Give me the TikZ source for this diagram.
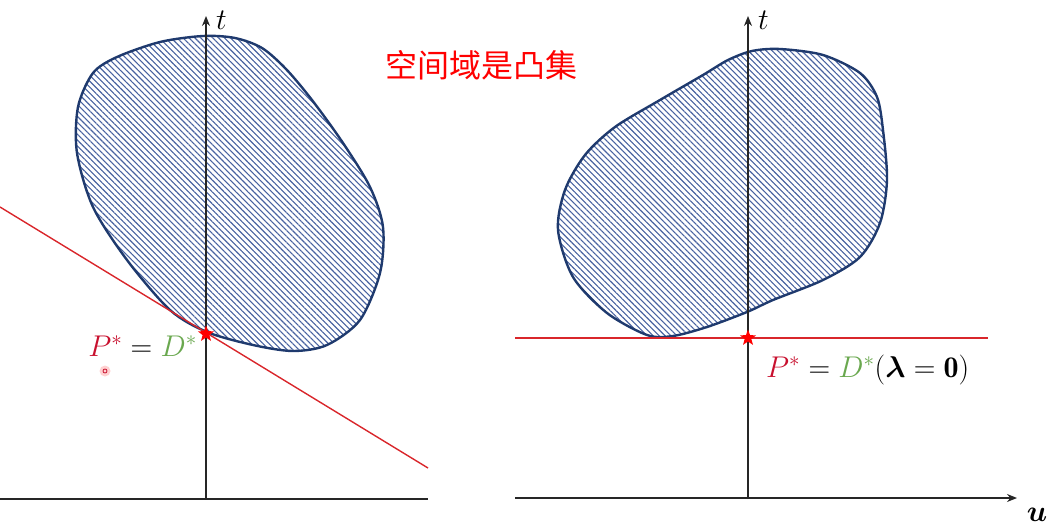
\RequirePackage{fix-cm}
\documentclass[tikz,border=0pt]{standalone}
\usepackage{amsmath,bm}
\usepackage{fontspec}
\newfontfamily\cjk{Noto Sans CJK SC}
\usetikzlibrary{arrows.meta,shapes.geometric,patterns.meta}
\definecolor{navy}{HTML}{1F3A6E}
\definecolor{hatch}{HTML}{4862A0}
\definecolor{lred}{HTML}{D9262B}
\definecolor{pred}{HTML}{C8102E}
\definecolor{dgreen}{HTML}{6AA84F}
\tikzset{
  blob/.style={draw=navy,line width=2.4pt,pattern={Lines[angle=-45,distance=4.2pt,line width=1.1pt]},pattern color=hatch},
  axis/.style={draw=black!85,line width=1.4pt},
  axarrow/.style={axis,-{Stealth[length=10pt,width=8pt]}},
  redline/.style={draw=lred,line width=1.4pt},
  optstar/.style={star,star points=5,star point ratio=2.4,minimum size=17pt,inner sep=0pt,fill=red,draw=none},
  lab/.style={inner sep=0pt,font=\fontsize{30}{36}\selectfont}
}
\begin{document}
\begin{tikzpicture}[x=1pt,y=-1pt]
\useasboundingbox (0,0) rectangle (1055,532);
% left panel
\draw[blob] plot[smooth cycle] coordinates {
 (203,36) (235,38) (262,48) (286,69) (312,100) (343,143) (370,187) (383,227) (380,273)
 (360,320) (327,345) (293,351) (253,345) (207,332) (170,310) (127,260)
 (93,207) (77,153) (78,107) (93,73) (117,57) (160,42)};
\coordinate (lo) at (206,499);
\coordinate (lt) at (206,16);
\coordinate (lxa) at (0,499);
\coordinate (lxb) at (428,499);
\draw[axis] (lxa) -- (lxb);
\draw[axarrow] (lo) -- (lt);
\node[lab,anchor=west] (ltl) at (216,20) {$t$};
\coordinate (ra) at (0,207);
\coordinate (rb) at (428,468);
\draw[redline] (ra) -- (rb);
\node[optstar] (ls) at (206,334) {};
\node[lab,anchor=base east] (llab) at (197,356) {$\color{pred}P^*\color{black}=\color{dgreen}D^*$};
\node[circle,fill=red!30,opacity=0.6,minimum size=11pt,inner sep=0pt] (cur) at (105,371) {};
\node[circle,draw=pred,line width=0.8pt,minimum size=4pt,inner sep=0pt] (curc) at (105,371) {};
% right panel
\draw[blob] plot[smooth cycle] coordinates {
 (752,51) (780,49) (823,55) (860,73) (877,97) (883,130) (887,180) (880,223)
 (860,257) (823,280) (773,300) (747,312) (707,327) (673,336) (647,335)
 (607,313) (573,277) (558,230) (565,190) (585,155) (615,127) (660,100)
 (703,75) (728,60)};
\coordinate (ro) at (748,499);
\coordinate (rt) at (748,16);
\coordinate (rxa) at (515,498);
\coordinate (rxb) at (1017,498);
\draw[axarrow] (rxa) -- (rxb);
\draw[axarrow] (ro) -- (rt);
\node[lab,anchor=west] (rtl) at (758,20) {$t$};
\node[lab] (ul) at (1037,515) {$\bm{u}$};
\coordinate (ha) at (515,338);
\coordinate (hb) at (988,338);
\draw[redline] (ha) -- (hb);
\node[optstar] (rs) at (748,338) {};
\node[lab,anchor=base west] (rlab) at (766,377) {$\color{pred}P^*\color{black}=\color{dgreen}D^*\color{black}(\bm{\lambda}=\mathbf{0})$};
% title
\node[inner sep=0pt,text=red,font=\cjk\fontsize{32}{36}\selectfont] (title) at (481,65) {空间域是凸集};
\end{tikzpicture}
\end{document}
